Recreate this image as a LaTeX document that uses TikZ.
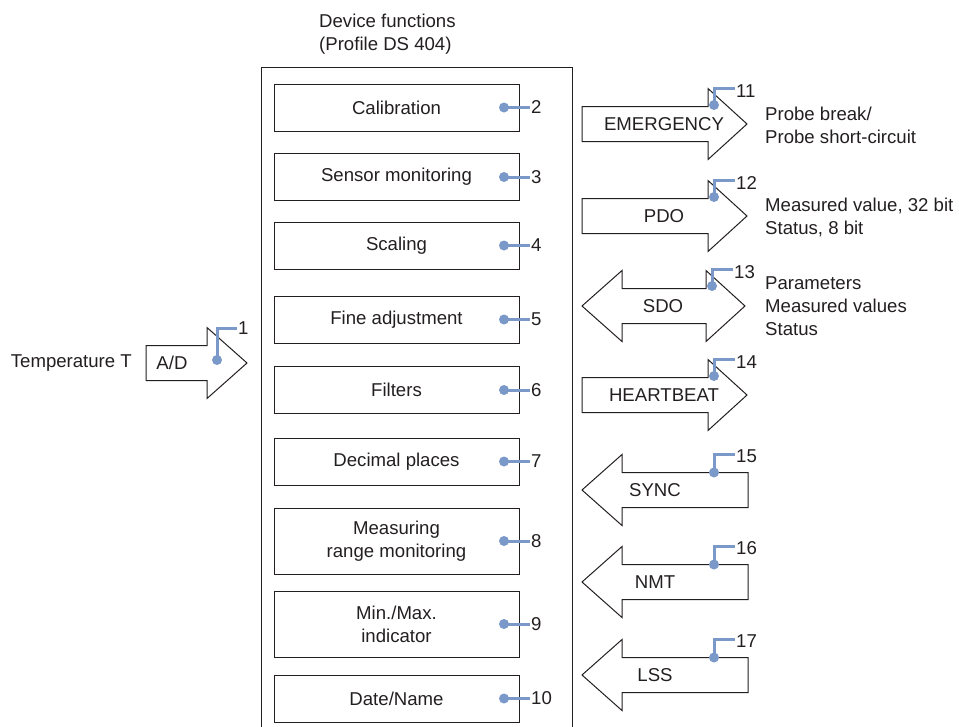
\documentclass[tikz,border=0pt]{standalone}
\usepackage{fontspec}
\setmainfont{Liberation Sans}
\usetikzlibrary{calc}
\definecolor{ink}{RGB}{35,31,32}
\definecolor{callout}{RGB}{122,153,200}
\begin{document}
\begin{tikzpicture}[x=1pt, y=-1pt, font=\fontsize{18.6}{23}\selectfont, text=ink,
  fbox/.style={draw=ink, line width=1pt, minimum width=245pt, inner sep=0pt, align=center},
  arr/.style={draw=ink, line width=1pt, line join=miter},
  lead/.style={draw=callout, line width=3pt},
  num/.style={anchor=west, inner sep=1pt}]
\useasboundingbox (0,0) rectangle (959,726);
% device box, open at the bottom
\draw[ink, line width=1pt] (261,730) -- (261,67) -- (572,67) -- (572,730);
\node[anchor=west, align=left, inner sep=0pt] (title) at (319,34) {Device functions\\(Profile DS 404)};
% function blocks
\foreach \cy/\hh/\txt/\n in {107.5/47/Calibration/2, 177/47/Sensor monitoring/3, 245.5/47/Scaling/4,
  319.5/47/Fine adjustment/5, 390/47/Filters/6, 461.5/47/Decimal places/7,
  541/66/{Measuring\\range monitoring}/8, 624/66/{Min./Max.\\indicator}/9, 698.5/47/{Date/Name}/10} {
 \node[fbox, minimum height=\hh] (f\n) at (396.5,\cy) {\txt};
 \coordinate (d\n) at (504,\cy);
 \node[num] (n\n) at (530,\cy) {\n};
 \draw[lead] (d\n) -- (n\n.west);
 \fill[callout] (d\n) circle (5);
}
% input
\node[anchor=east, inner sep=0pt] (temp) at (132,363) {Temperature T};
\draw[arr] (146,345.5) -- (207,345.5) -- (207,327.5) -- (247,363) -- (207,398.5) -- (207,380.5) -- (146,380.5) -- cycle;
\node (ad) at (172,363) {A/D};
\coordinate (d1) at (217,360);
\node[num] (n1) at (237,328) {1};
\draw[lead] (d1) |- (n1.west);
\fill[callout] (d1) circle (5);
% outgoing objects
\foreach \cy/\txt/\n in {124/EMERGENCY/11, 216/PDO/12, 395/HEARTBEAT/14} {
 \draw[arr] (582,\cy-17.5) -- (708,\cy-17.5) -- (708,\cy-35.5) -- (747,\cy) -- (708,\cy+35.5) -- (708,\cy+17.5) -- (582,\cy+17.5) -- cycle;
 \node (o\n) at (664,\cy) {\txt};
 \coordinate (d\n) at (714,\cy-19);
 \node[num] (n\n) at (735,\cy-33) {\n};
 \draw[lead] (d\n) |- ([yshift=3pt]n\n.west);
 \fill[callout] (d\n) circle (5);
}
% both ways
\draw[arr] (582,306) -- (622,270.5) -- (622,288.5) -- (706,288.5) -- (706,270.5) -- (745,306) -- (706,341.5) -- (706,323.5) -- (622,323.5) -- (622,341.5) -- cycle;
\node (o13) at (663,306) {SDO};
\coordinate (d13) at (712,286);
\node[num] (n13) at (733,272) {13};
\draw[lead] (d13) |- ([yshift=3pt]n13.west);
\fill[callout] (d13) circle (5);
% incoming objects
\foreach \cy/\txt/\n in {490/SYNC/15, 582/NMT/16, 675/LSS/17} {
 \draw[arr] (582,\cy) -- (622,\cy-35.5) -- (622,\cy-17.5) -- (748,\cy-17.5) -- (748,\cy+17.5) -- (622,\cy+17.5) -- (622,\cy+35.5) -- cycle;
 \node (o\n) at (655,\cy) {\txt};
 \coordinate (d\n) at (714,\cy-17.5);
 \node[num] (n\n) at (735,\cy-34) {\n};
 \draw[lead] (d\n) |- ([yshift=2pt]n\n.west);
 \fill[callout] (d\n) circle (5);
}
% object contents
\node[anchor=west, align=left, inner sep=0pt] (c11) at (765,125) {Probe break/\\Probe short-circuit};
\node[anchor=west, align=left, inner sep=0pt] (c12) at (765,217) {Measured value, 32 bit\\Status, 8 bit};
\node[anchor=west, align=left, inner sep=0pt] (c13) at (765,306) {Parameters\\Measured values\\Status};
\end{tikzpicture}
\end{document}
